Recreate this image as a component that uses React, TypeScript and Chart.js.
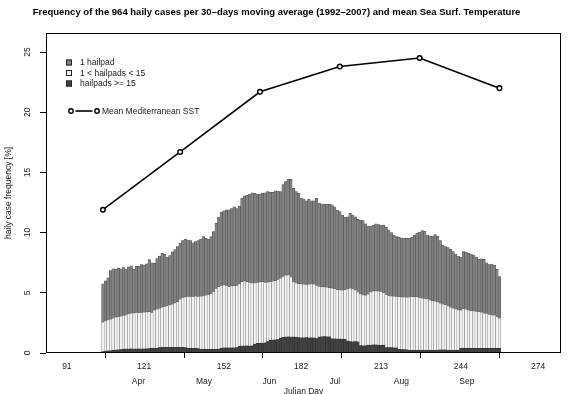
import React, { useEffect, useRef } from 'react';
import { Chart, registerables } from 'chart.js';

Chart.register(...registerables);

const FONT = "'Liberation Sans', Arial, Helvetica, sans-serif";

const titleText =
  'Frequency of the 964 haily cases per 30\u2013days moving average (1992\u20132007) and mean Sea Surf. Temperature';
const yTitle = 'haily case frequency [%]';
const xTitle = 'Julian Day';

// one bar per Julian day, starting at this day
const firstDay = 105;

// "1 hailpad" (top segment)
const oneHailpad = [
  3.20, 3.35, 3.51, 4.05, 4.12, 3.99, 4.05, 3.95, 4.00, 3.80,
  3.90, 3.95, 3.63, 3.85, 3.87, 4.00, 3.92, 4.00, 4.32, 4.15,
  3.90, 4.23, 4.35, 4.48, 4.35, 4.05, 4.11, 4.35, 4.45, 4.57,
  4.65, 4.73, 4.79, 4.70, 4.65, 4.48, 4.55, 4.65, 4.74, 4.94,
  4.75, 4.59, 4.76, 4.98, 5.42, 5.80, 6.10, 6.15, 6.30, 6.40,
  6.45, 6.57, 6.40, 6.45, 6.93, 7.10, 7.18, 7.35, 7.50, 7.46,
  7.35, 7.30, 7.34, 7.45, 7.52, 7.43, 7.40, 7.48, 7.35, 7.20,
  7.63, 7.78, 7.94, 8.12, 7.78, 7.60, 7.51, 7.13, 7.10, 6.97,
  7.07, 6.93, 6.95, 7.25, 6.93, 6.88, 6.90, 6.90, 6.93, 6.92,
  6.83, 6.63, 6.52, 6.26, 6.02, 6.02, 6.23, 6.16, 6.10, 6.05,
  6.15, 6.18, 5.94, 5.67, 5.50, 5.48, 5.57, 5.54, 5.53, 5.63,
  5.59, 5.47, 5.27, 5.10, 4.98, 4.95, 4.90, 4.90, 4.89, 4.88,
  4.95, 5.10, 5.29, 5.45, 5.61, 5.58, 5.32, 5.32, 5.38, 5.53,
  5.50, 5.21, 4.92, 4.83, 4.85, 4.81, 4.70, 4.57, 4.49, 4.40,
  4.76, 4.74, 4.73, 4.72, 4.66, 4.50, 4.35, 4.45, 4.48, 4.22,
  4.14, 4.23, 4.18, 3.95, 3.46,
];

// "1 < hailpads < 15" (middle segment)
const fewHailpads = [
  2.43, 2.50, 2.57, 2.61, 2.64, 2.71, 2.74, 2.77, 2.80, 2.82,
  2.92, 2.96, 2.99, 3.02, 2.99, 3.02, 3.04, 3.06, 3.06, 2.97,
  3.17, 3.22, 3.24, 3.33, 3.38, 3.45, 3.51, 3.58, 3.68, 3.79,
  3.97, 4.13, 4.19, 4.29, 4.30, 4.30, 4.32, 4.31, 4.39, 4.42,
  4.48, 4.54, 4.60, 4.80, 5.04, 5.17, 5.19, 5.23, 5.18, 5.08,
  5.12, 5.16, 5.16, 5.19, 5.34, 5.37, 5.33, 5.27, 5.20, 5.06,
  5.05, 5.10, 5.10, 5.01, 4.94, 4.86, 4.87, 4.91, 4.98, 4.98,
  5.05, 5.12, 5.14, 4.97, 4.57, 4.48, 4.47, 4.45, 4.44, 4.40,
  4.45, 4.45, 4.44, 4.40, 4.19, 4.15, 4.12, 4.10, 4.08, 4.20,
  4.15, 4.09, 4.06, 4.05, 4.11, 4.30, 4.43, 4.37, 4.28, 4.12,
  4.28, 4.22, 4.18, 4.22, 4.39, 4.48, 4.47, 4.46, 4.44, 4.35,
  4.39, 4.31, 4.29, 4.27, 4.26, 4.36, 4.37, 4.37, 4.36, 4.42,
  4.44, 4.45, 4.42, 4.38, 4.33, 4.29, 4.26, 4.18, 4.11, 4.08,
  3.98, 3.86, 3.79, 3.74, 3.66, 3.57, 3.50, 3.43, 3.35, 3.16,
  3.27, 3.23, 3.16, 3.11, 3.09, 3.06, 3.04, 2.99, 2.91, 2.89,
  2.81, 2.77, 2.73, 2.61, 2.49,
];

// "hailpads >= 15" (bottom segment)
const manyHailpads = [
  0.12, 0.15, 0.17, 0.19, 0.24, 0.25, 0.26, 0.28, 0.30, 0.33,
  0.33, 0.34, 0.33, 0.33, 0.34, 0.33, 0.34, 0.34, 0.37, 0.38,
  0.38, 0.40, 0.46, 0.47, 0.47, 0.47, 0.48, 0.47, 0.47, 0.47,
  0.48, 0.47, 0.46, 0.39, 0.38, 0.38, 0.38, 0.37, 0.31, 0.30,
  0.30, 0.31, 0.30, 0.30, 0.31, 0.33, 0.41, 0.42, 0.42, 0.42,
  0.43, 0.42, 0.44, 0.56, 0.58, 0.58, 0.59, 0.58, 0.60, 0.74,
  0.80, 0.80, 0.82, 0.84, 0.94, 1.06, 1.08, 1.09, 1.12, 1.22,
  1.30, 1.33, 1.34, 1.33, 1.33, 1.32, 1.28, 1.27, 1.26, 1.28,
  1.25, 1.27, 1.26, 1.20, 1.33, 1.35, 1.36, 1.35, 1.34, 1.18,
  1.17, 1.16, 1.16, 1.15, 1.14, 1.00, 0.94, 0.93, 0.94, 0.93,
  0.62, 0.60, 0.60, 0.66, 0.66, 0.67, 0.68, 0.66, 0.66, 0.65,
  0.46, 0.44, 0.44, 0.43, 0.42, 0.30, 0.28, 0.28, 0.27, 0.22,
  0.22, 0.22, 0.23, 0.22, 0.22, 0.23, 0.22, 0.22, 0.23, 0.22,
  0.24, 0.26, 0.26, 0.26, 0.24, 0.23, 0.22, 0.22, 0.22, 0.39,
  0.39, 0.39, 0.39, 0.39, 0.39, 0.39, 0.39, 0.39, 0.39, 0.39,
  0.39, 0.39, 0.39, 0.39, 0.39,
];

// Mean Mediterranean SST (plotted mid-month)
const sstDays = [105, 135, 166, 197, 228, 259];
const sstValues = [11.9, 16.7, 21.7, 23.8, 24.5, 22.0];

const monthNames = ['Apr', 'May', 'Jun', 'Jul', 'Aug', 'Sep'];
const monthLabelDays = [106, 136.5, 167, 197.5, 228.5, 259];

const dayTicks = [91, 121, 152, 182, 213, 244, 274];
const freqTicks = [0, 5, 10, 15, 20, 25];

const seriesNames = ['1 hailpad', '1 < hailpads < 15', 'hailpads >= 15'];
const sstName = 'Mean Mediterranean SST';

const X_MIN = 82.9;
const X_MAX = 282.9;
const Y_MAX = 26.58;

const GRAY = '#828282';
const WHITE = '#f4f4f4';
const DARK = '#424242';
const TEXT = '#1a1a1a';

const toPoints = (arr: number[]) => arr.map((v, i) => ({ x: firstDay + i, y: v }));

const decorPlugin = {
  id: 'decor',
  afterDraw(chart: any) {
    const { ctx, chartArea: a, scales } = chart;
    ctx.save();
    // title
    ctx.fillStyle = '#000';
    ctx.font = `bold 9.5px ${FONT}`;
    ctx.textAlign = 'center';
    ctx.textBaseline = 'middle';
    ctx.fillText(titleText, 276.5, 12.7);

    // frame
    ctx.strokeStyle = '#000';
    ctx.lineWidth = 1;
    ctx.strokeRect(a.left + 0.5, a.top + 0.5, a.right - a.left - 1, a.bottom - a.top - 1);

    // y tick labels (rotated, as in the original)
    ctx.fillStyle = TEXT;
    ctx.font = `8.5px ${FONT}`;
    ctx.textAlign = 'center';
    ctx.textBaseline = 'middle';
    for (const v of freqTicks) {
      const y = scales.y.getPixelForValue(v);
      ctx.save();
      ctx.translate(28, y);
      ctx.rotate(-Math.PI / 2);
      ctx.fillText(String(v), 0, 0);
      ctx.restore();
    }

    // legend (boxes)
    const ds = chart.data.datasets;
    const boxes = [ds[3], ds[2], ds[1]];
    const rowsY = [62.5, 73, 83.5];
    ctx.font = `8.5px ${FONT}`;
    ctx.textAlign = 'left';
    boxes.forEach((d: any, i: number) => {
      const y = rowsY[i];
      ctx.fillStyle = d.backgroundColor;
      ctx.fillRect(66, y - 3, 6, 6);
      ctx.strokeStyle = '#222';
      ctx.lineWidth = 1;
      ctx.strokeRect(66.5, y - 2.5, 5, 5);
      ctx.fillStyle = TEXT;
      ctx.fillText(d.label, 80, y + 0.5);
    });

    // legend (line)
    const ly = 111;
    ctx.strokeStyle = '#000';
    ctx.lineWidth = 1.6;
    ctx.beginPath();
    ctx.moveTo(75.5, ly);
    ctx.lineTo(92.5, ly);
    ctx.stroke();
    ctx.lineWidth = 1.4;
    for (const cx of [71, 97]) {
      ctx.beginPath();
      ctx.arc(cx, ly, 2.2, 0, Math.PI * 2);
      ctx.fillStyle = '#fff';
      ctx.fill();
      ctx.stroke();
    }
    ctx.fillStyle = TEXT;
    ctx.fillText(ds[0].label, 102, ly + 0.5);
    ctx.restore();
  },
};

export default function App() {
  const ref = useRef<HTMLCanvasElement | null>(null);

  useEffect(() => {
    const canvas = ref.current;
    if (!canvas) return;
    const barCommon = {
      stack: 'hail',
      order: 1,
      barPercentage: 1,
      categoryPercentage: 1,
      borderWidth: 0.5,
      borderSkipped: false,
    };
    const chart = new Chart(canvas, {
      type: 'bar',
      data: {
        datasets: [
          {
            type: 'line',
            label: sstName,
            data: sstDays.map((d, i) => ({ x: d, y: sstValues[i] })),
            borderColor: '#000',
            borderWidth: 1.6,
            pointRadius: 2.3,
            pointBorderWidth: 1.5,
            pointBackgroundColor: '#fff',
            pointBorderColor: '#000',
            stack: 'sst',
            order: 0,
          } as any,
          {
            ...barCommon,
            label: seriesNames[2],
            data: toPoints(manyHailpads),
            backgroundColor: DARK,
            borderColor: '#2a2a2a',
          } as any,
          {
            ...barCommon,
            label: seriesNames[1],
            data: toPoints(fewHailpads),
            backgroundColor: WHITE,
            borderColor: '#777777',
          } as any,
          {
            ...barCommon,
            label: seriesNames[0],
            data: toPoints(oneHailpad),
            backgroundColor: GRAY,
            borderColor: '#4a4a4a',
          } as any,
        ],
      },
      options: {
        responsive: false,
        animation: false,
        devicePixelRatio: 1,
        layout: { padding: { left: 0, right: 12, top: 33, bottom: 0 } },
        plugins: {
          legend: { display: false },
          tooltip: { enabled: false },
          title: { display: false },
        },
        scales: {
          x: {
            type: 'linear',
            min: X_MIN,
            max: X_MAX,
            stacked: true,
            offset: false,
            afterBuildTicks: (s: any) => {
              s.ticks = dayTicks.map((v) => ({ value: v }));
            },
            afterFit: (s: any) => {
              s.height = 20;
            },
            ticks: {
              autoSkip: false,
              maxRotation: 0,
              padding: 4,
              color: TEXT,
              font: { family: FONT, size: 8.5 },
              callback: (v: any) => String(v),
            },
            grid: { drawOnChartArea: false, drawTicks: true, tickLength: 5, color: '#000', lineWidth: 1 },
            border: { display: false },
          },
          x2: {
            type: 'linear',
            position: 'bottom',
            min: X_MIN,
            max: X_MAX,
            afterBuildTicks: (s: any) => {
              s.ticks = monthLabelDays.map((v) => ({ value: v }));
            },
            afterFit: (s: any) => {
              s.height = 21;
            },
            ticks: {
              autoSkip: false,
              maxRotation: 0,
              padding: 3.5,
              color: TEXT,
              font: { family: FONT, size: 8.5 },
              callback: (v: any) => {
                const k = monthLabelDays.indexOf(Number(v));
                return k >= 0 ? monthNames[k] : '';
              },
            },
            grid: { display: false, drawTicks: false },
            border: { display: false },
            title: {
              display: true,
              text: xTitle,
              color: TEXT,
              font: { family: FONT, size: 8.5 },
              padding: { top: 0, bottom: -2.5 },
            },
          },
          y: {
            type: 'linear',
            min: 0,
            max: Y_MAX,
            stacked: true,
            afterBuildTicks: (s: any) => {
              s.ticks = freqTicks.map((v) => ({ value: v }));
            },
            afterFit: (s: any) => {
              s.width = 46;
            },
            ticks: { display: false },
            grid: { drawOnChartArea: false, drawTicks: true, tickLength: 6, color: '#000', lineWidth: 1 },
            border: { display: false },
            title: {
              display: true,
              text: yTitle,
              color: TEXT,
              font: { family: FONT, size: 8.5 },
              padding: { top: 3.5, bottom: 0 },
            },
          },
        },
      } as any,
      plugins: [decorPlugin],
    });
    return () => chart.destroy();
  }, []);

  return (
    <div style={{ position: 'absolute', left: 0, top: 0, width: 573, height: 394, background: '#fff' }}>
      <canvas ref={ref} width={573} height={394} />
    </div>
  );
}
